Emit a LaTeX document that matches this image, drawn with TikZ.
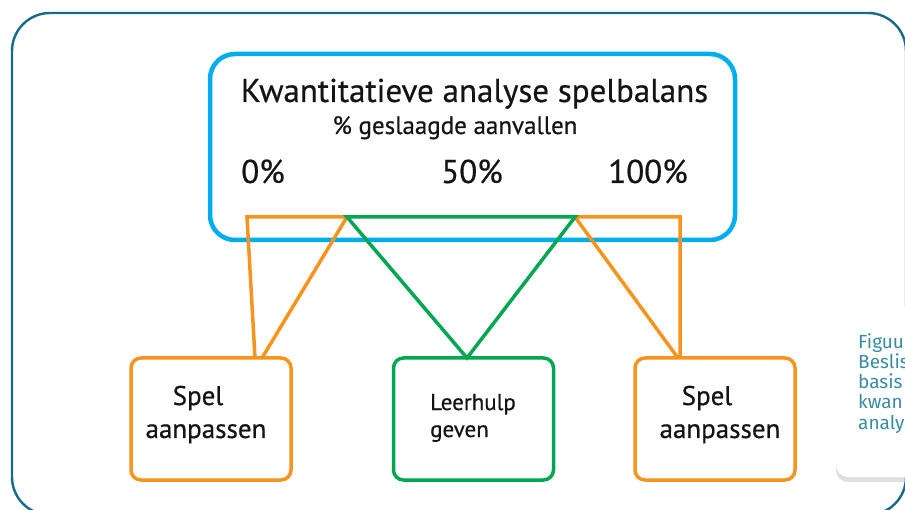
\documentclass[tikz,border=0pt]{standalone}
\usepackage{fontspec}
\setmainfont{PT Sans}[FakeBold=0.5]
\newfontfamily\capfont{Fira Sans}
\usetikzlibrary{shadows}
\definecolor{cyanb}{RGB}{0,174,239}
\definecolor{orangeb}{RGB}{247,148,29}
\definecolor{greenb}{RGB}{0,166,81}
\definecolor{framec}{RGB}{20,108,138}
\definecolor{capc}{RGB}{58,140,162}
\definecolor{txt}{RGB}{20,20,20}
\tikzset{
  bbox/.style={draw, line width=3.5pt, rounded corners=10pt, minimum width=160pt, minimum height=122pt, inner sep=0pt, fill=white},
  lbl/.style={inner sep=0pt, anchor=base, text=txt},
  lblw/.style={inner sep=0pt, anchor=base west, text=txt},
  capt/.style={inner sep=0pt, anchor=base west, text=capc, font=\capfont\fontsize{19}{21}\selectfont},
  oconn/.style={draw=orangeb, line width=3.5pt, line join=miter},
  gconn/.style={draw=greenb, line width=3.5pt, line join=miter},
}
\begin{document}
\begin{tikzpicture}[x=1pt,y=-1pt]
\useasboundingbox (0,0) rectangle (905,510);
\clip (0,0) rectangle (905,510);
% outer frame
\draw[framec, line width=2.4pt, rounded corners=38pt] (12,13) rectangle (906,515);
% caption box
\node[fill=white, rounded corners=12pt, minimum width=100pt, minimum height=171pt, inner sep=0pt,
  drop shadow={shadow xshift=0pt, shadow yshift=-5pt, opacity=0.25}] (capbox) at (886,391.5) {};
\node[capt] (c1) at (858,349) {Figuu};
\node[capt] (c2) at (858,369) {Beslis};
\node[capt] (c3) at (858,389) {basis};
\node[capt] (c4) at (858,409) {kwan};
\node[capt] (c5) at (858,429) {analy};
% top box
\node[draw=cyanb, line width=4.5pt, rounded corners=25pt, minimum width=525pt, minimum height=186pt, inner sep=0pt] (top) at (472.5,147) {};
\node[lbl, font=\fontsize{33}{38}\selectfont] (title) at (474.5,102) {Kwantitatieve analyse spelbalans};
\node[lbl, font=\fontsize{25}{30}\selectfont] (sub) at (455,134) {\% geslaagde aanvallen};
\node[lbl, font=\fontsize{33}{38}\selectfont] (p0) at (263,183) {0\%};
\node[lbl, font=\fontsize{33}{38}\selectfont] (p50) at (472,183) {50\%};
\node[lbl, font=\fontsize{33}{38}\selectfont] (p100) at (648,183) {100\%};
% connector anchors inside top box
\coordinate (tl) at (247,217);
\coordinate (tm1) at (347,217);
\coordinate (tm2) at (575,217);
\coordinate (tr) at (680,217);
% bottom boxes
\node[bbox, draw=orangeb] (left) at (211,419) {};
\node[bbox, draw=greenb] (mid) at (473.5,419) {};
\node[bbox, draw=orangeb] (right) at (715,419) {};
\coordinate (lb1) at (255,358);
\coordinate (lb2) at (262,358);
\coordinate (gb) at (467,358);
\coordinate (rb1) at (678,358);
\coordinate (rb2) at (680,358);
% connectors
\draw[oconn] (lb1) -- (tl) -- (tm1) -- (lb2);
\draw[oconn] (rb1) -- (tm2) -- (tr) -- (rb2);
\draw[gconn] (gb) -- (tm1) -- (tm2) -- cycle;
% bottom texts
\node[lbl, font=\fontsize{27}{32}\selectfont] (ls) at (198,405) {Spel};
\node[lbl, font=\fontsize{27}{32}\selectfont] (la) at (206,438) {aanpassen};
\node[lblw, font=\fontsize{23}{28}\selectfont] (ml) at (430,410) {Leerhulp};
\node[lblw, font=\fontsize{23}{28}\selectfont] (mg) at (430,437) {geven};
\node[lbl, font=\fontsize{27}{32}\selectfont] (rs) at (707,405) {Spel};
\node[lbl, font=\fontsize{27}{32}\selectfont] (ra) at (720,438) {aanpassen};
\end{tikzpicture}
\end{document}
